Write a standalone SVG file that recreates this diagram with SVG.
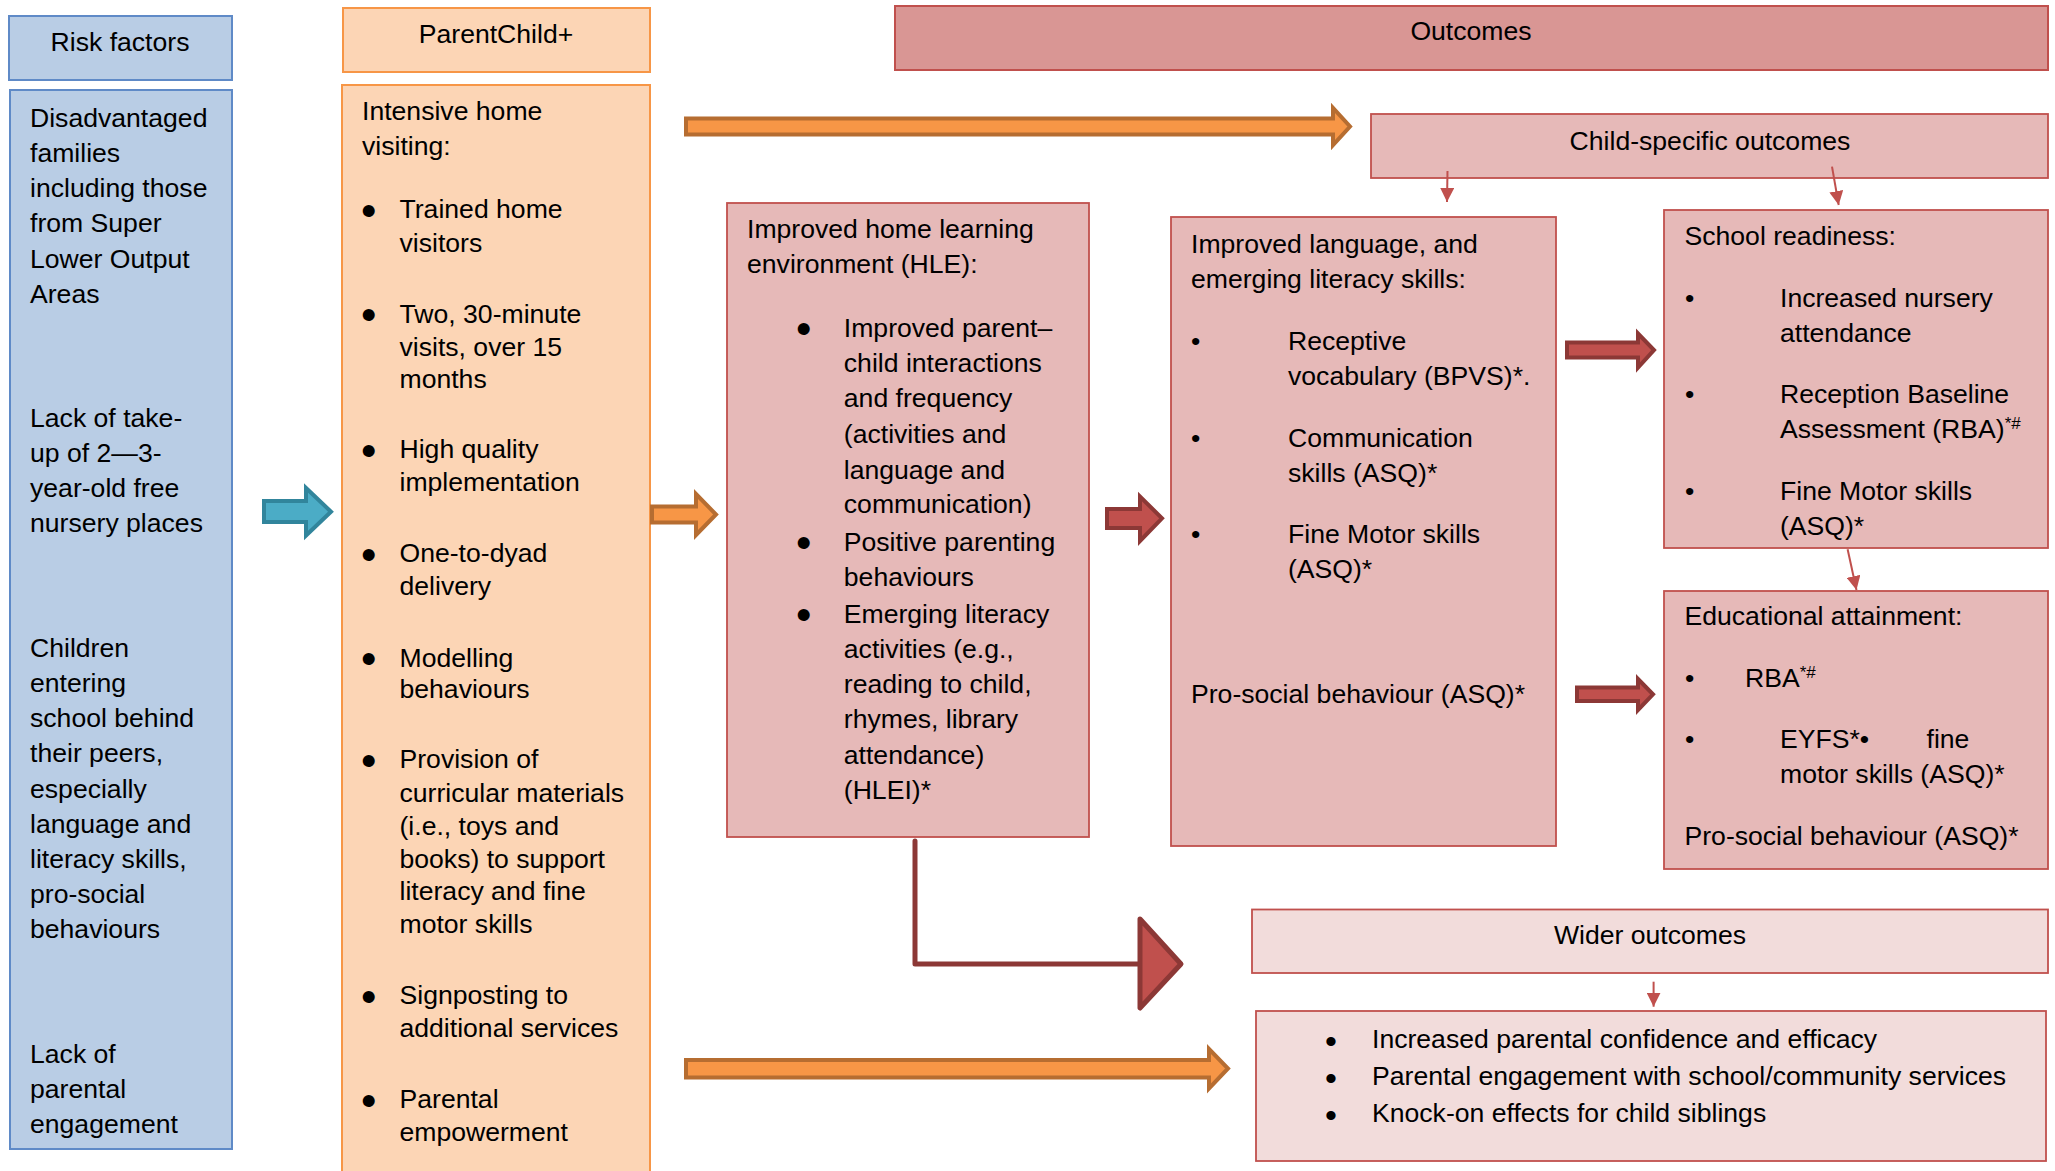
<svg xmlns="http://www.w3.org/2000/svg" width="2055" height="1171" viewBox="0 0 2055 1171">
<style>
.t{font-family:"Liberation Sans",Arial,sans-serif;font-size:26.6px;fill:#000}
.c{text-anchor:middle}
.bb{font-size:44px}
.bs{font-size:34px}
.sup{font-size:17px}
.blue{fill:#B9CDE5;stroke:#5F8AC7;stroke-width:2}
.orange{fill:#FCD5B5;stroke:#F79646;stroke-width:2}
.head{fill:#D99694;stroke:#C0504D;stroke-width:2}
.pink{fill:#E6B9B8;stroke:#C0504D;stroke-width:1.8}
.light{fill:#F2DCDB;stroke:#C0504D;stroke-width:1.8}
.oarr{fill:#F79646;stroke:#B66D31;stroke-width:4}
.rarr{fill:#C0504D;stroke:#8C3836;stroke-width:4}
.tarr{fill:#4BACC6;stroke:#31859C;stroke-width:4}
.thin{stroke:#C0504D;stroke-width:2;fill:none}
</style>
<defs>
<marker id="ah" viewBox="0 0 14 14" refX="14" refY="7" markerWidth="14" markerHeight="14" markerUnits="userSpaceOnUse" orient="auto">
<path d="M0,0 L14,7 L0,14 z" fill="#C0504D"/>
</marker>
</defs>

<g id="risk-header">
<rect class="blue" x="9" y="16" width="223" height="64"/>
<text class="t c" x="120" y="51">Risk factors</text>
</g>
<g id="risk-body">
<rect class="blue" x="10" y="90" width="222" height="1059"/>
<text class="t" x="30" y="126.7">Disadvantaged</text>
<text class="t" x="30" y="161.9">families</text>
<text class="t" x="30" y="197.1">including those</text>
<text class="t" x="30" y="232.3">from Super</text>
<text class="t" x="30" y="267.5">Lower Output</text>
<text class="t" x="30" y="302.7">Areas</text>
<text class="t" x="30" y="426.7">Lack of take-</text>
<text class="t" x="30" y="461.9">up of 2—3-</text>
<text class="t" x="30" y="497.1">year-old free</text>
<text class="t" x="30" y="532.3">nursery places</text>
<text class="t" x="30" y="656.7">Children</text>
<text class="t" x="30" y="691.9">entering</text>
<text class="t" x="30" y="727.1">school behind</text>
<text class="t" x="30" y="762.3">their peers,</text>
<text class="t" x="30" y="797.5">especially</text>
<text class="t" x="30" y="832.7">language and</text>
<text class="t" x="30" y="867.9">literacy skills,</text>
<text class="t" x="30" y="903.1">pro-social</text>
<text class="t" x="30" y="938.3">behaviours</text>
<text class="t" x="30" y="1062.7">Lack of</text>
<text class="t" x="30" y="1097.9">parental</text>
<text class="t" x="30" y="1133.1">engagement</text>
</g>

<g id="pc-header">
<rect class="orange" x="343" y="8" width="307" height="64"/>
<text class="t c" x="496" y="43">ParentChild+</text>
</g>
<g id="pc-body">
<rect class="orange" x="342" y="85" width="308" height="1095"/>
<text class="t" x="362" y="120">Intensive home</text>
<text class="t" x="362" y="155">visiting:</text>
<text class="t bb" x="361" y="226">•</text>
<text class="t" x="399.5" y="218.3">Trained home</text>
<text class="t" x="399.5" y="251.7">visitors</text>
<text class="t bb" x="361" y="330">•</text>
<text class="t" x="399.5" y="322.7">Two, 30-minute</text>
<text class="t" x="399.5" y="356">visits, over 15</text>
<text class="t" x="399.5" y="388.3">months</text>
<text class="t bb" x="361" y="466">•</text>
<text class="t" x="399.5" y="458.3">High quality</text>
<text class="t" x="399.5" y="490.7">implementation</text>
<text class="t bb" x="361" y="570">•</text>
<text class="t" x="399.5" y="562.3">One-to-dyad</text>
<text class="t" x="399.5" y="595">delivery</text>
<text class="t bb" x="361" y="674">•</text>
<text class="t" x="399.5" y="666.7">Modelling</text>
<text class="t" x="399.5" y="698.3">behaviours</text>
<text class="t bb" x="361" y="776">•</text>
<text class="t" x="399.5" y="768.3">Provision of</text>
<text class="t" x="399.5" y="801.7">curricular materials</text>
<text class="t" x="399.5" y="835">(i.e., toys and</text>
<text class="t" x="399.5" y="867.7">books) to support</text>
<text class="t" x="399.5" y="900">literacy and fine</text>
<text class="t" x="399.5" y="933.3">motor skills</text>
<text class="t bb" x="361" y="1012">•</text>
<text class="t" x="399.5" y="1004">Signposting to</text>
<text class="t" x="399.5" y="1037.3">additional services</text>
<text class="t bb" x="361" y="1116">•</text>
<text class="t" x="399.5" y="1108.3">Parental</text>
<text class="t" x="399.5" y="1140.7">empowerment</text>
</g>

<g id="outcomes-header">
<rect class="head" x="895" y="6" width="1153" height="64"/>
<text class="t c" x="1471" y="40">Outcomes</text>
</g>

<g id="child-specific">
<rect class="pink" x="1371" y="114" width="677" height="64"/>
<text class="t c" x="1710" y="150">Child-specific outcomes</text>
</g>

<g id="hle">
<rect class="pink" x="727" y="203" width="362" height="634"/>
<text class="t" x="747" y="238.3">Improved home learning</text>
<text class="t" x="747" y="273.3">environment (HLE):</text>
<text class="t bb" x="796" y="344">•</text>
<text class="t" x="843.8" y="336.7">Improved parent–</text>
<text class="t" x="843.8" y="371.7">child interactions</text>
<text class="t" x="843.8" y="406.7">and frequency</text>
<text class="t" x="843.8" y="443.3">(activities and</text>
<text class="t" x="843.8" y="479">language and</text>
<text class="t" x="843.8" y="513.3">communication)</text>
<text class="t bb" x="796" y="558">•</text>
<text class="t" x="843.8" y="550.7">Positive parenting</text>
<text class="t" x="843.8" y="586">behaviours</text>
<text class="t bb" x="796" y="630">•</text>
<text class="t" x="843.8" y="622.7">Emerging literacy</text>
<text class="t" x="843.8" y="658.3">activities (e.g.,</text>
<text class="t" x="843.8" y="693.3">reading to child,</text>
<text class="t" x="843.8" y="728.3">rhymes, library</text>
<text class="t" x="843.8" y="764">attendance)</text>
<text class="t" x="843.8" y="799">(HLEI)*</text>
</g>

<g id="language">
<rect class="pink" x="1171" y="217" width="385" height="629"/>
<text class="t" x="1191" y="253.3">Improved language, and</text>
<text class="t" x="1191" y="288.3">emerging literacy skills:</text>
<text class="t" x="1191" y="350">•</text>
<text class="t" x="1288" y="350">Receptive</text>
<text class="t" x="1288" y="385">vocabulary (BPVS)*.</text>
<text class="t" x="1191" y="446.7">•</text>
<text class="t" x="1288" y="446.7">Communication</text>
<text class="t" x="1288" y="481.7">skills (ASQ)*</text>
<text class="t" x="1191" y="543.3">•</text>
<text class="t" x="1288" y="543.3">Fine Motor skills</text>
<text class="t" x="1288" y="578.3">(ASQ)*</text>
<text class="t" x="1191" y="703.3">Pro-social behaviour (ASQ)*</text>
</g>

<g id="school-readiness">
<rect class="pink" x="1664" y="210" width="384" height="338"/>
<text class="t" x="1684.5" y="245">School readiness:</text>
<text class="t" x="1685" y="306.7">•</text>
<text class="t" x="1780" y="306.7">Increased nursery</text>
<text class="t" x="1780" y="341.7">attendance</text>
<text class="t" x="1685" y="403.3">•</text>
<text class="t" x="1780" y="403.3">Reception Baseline</text>
<text class="t" x="1780" y="438.3">Assessment (RBA)<tspan class="sup" dy="-9">*#</tspan></text>
<text class="t" x="1685" y="500">•</text>
<text class="t" x="1780" y="500">Fine Motor skills</text>
<text class="t" x="1780" y="535">(ASQ)*</text>
</g>

<g id="educational-attainment">
<rect class="pink" x="1664" y="591" width="384" height="278"/>
<text class="t" x="1684.5" y="625">Educational attainment:</text>
<text class="t" x="1685" y="686.7">•</text>
<text class="t" x="1745" y="686.7">RBA<tspan class="sup" dy="-9">*#</tspan></text>
<text class="t" x="1685" y="748.3">•</text>
<text class="t" y="748.3"><tspan x="1780">EYFS*•</tspan><tspan x="1926.5">fine</tspan></text>
<text class="t" x="1780" y="783.3">motor skills (ASQ)*</text>
<text class="t" x="1684.5" y="845">Pro-social behaviour (ASQ)*</text>
</g>

<g id="wider-outcomes">
<rect class="light" x="1252" y="909.5" width="796" height="63.5"/>
<text class="t c" x="1650" y="944">Wider outcomes</text>
</g>

<g id="wider-list">
<rect class="light" x="1256" y="1011" width="790" height="150"/>
<text class="t bs" x="1325" y="1053">•</text>
<text class="t" x="1372" y="1048.3">Increased parental confidence and efficacy</text>
<text class="t bs" x="1325" y="1090">•</text>
<text class="t" x="1372" y="1085">Parental engagement with school/community services</text>
<text class="t bs" x="1325" y="1127">•</text>
<text class="t" x="1372" y="1122.3">Knock-on effects for child siblings</text>
</g>

<g id="connectors">
<polygon class="tarr" points="264,501 306,501 306,488 331,511.7 306,535.5 306,522 264,522"/>
<polygon class="oarr" points="686,118.5 1333,118.5 1333,108 1350,126.5 1333,145 1333,134.5 686,134.5"/>
<polygon class="oarr" points="652,506.5 696,506.5 696,494 716,514.5 696,535 696,522.5 652,522.5"/>
<polygon class="oarr" points="686,1060 1209,1060 1209,1049 1228,1068.5 1209,1088.5 1209,1077.5 686,1077.5"/>
<polygon class="rarr" points="1107,509 1140,509 1140,496.5 1162,518.3 1140,541 1140,528 1107,528"/>
<polygon class="rarr" points="1567,342.5 1638,342.5 1638,333.5 1654,350 1638,367.5 1638,357.5 1567,357.5"/>
<polygon class="rarr" points="1577,687.5 1638,687.5 1638,679 1653,694.3 1638,710 1638,701 1577,701"/>
<polyline points="915,841 915,964 1140,964" fill="none" stroke="#8C3836" stroke-width="5" stroke-linecap="round" stroke-linejoin="round"/>
<polygon points="1140,919 1181,964 1140,1008" fill="#C0504D" stroke="#8C3836" stroke-width="5" stroke-linejoin="round"/>
<line class="thin" x1="1447.5" y1="171" x2="1447" y2="202" marker-end="url(#ah)"/>
<line class="thin" x1="1832" y1="166.7" x2="1838.7" y2="205" marker-end="url(#ah)"/>
<line class="thin" x1="1847.6" y1="549.3" x2="1856.5" y2="590" marker-end="url(#ah)"/>
<line class="thin" x1="1653.6" y1="981.7" x2="1653.6" y2="1006.7" marker-end="url(#ah)"/>
</g>
</svg>
